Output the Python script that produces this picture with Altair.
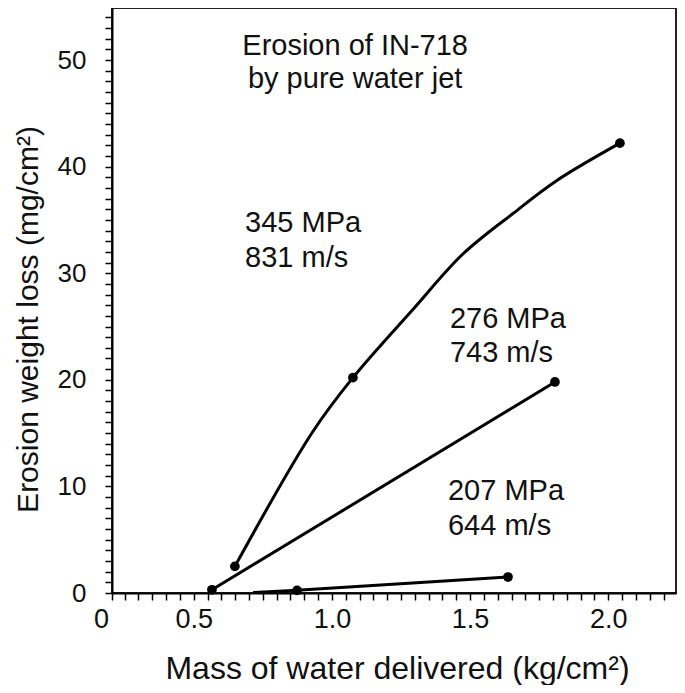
import altair as alt
import pandas as pd

# ---- data ----
x345 = [0.649, 0.930, 1.076, 1.293, 1.474, 1.655, 1.814, 2.042]
y345 = [2.5, 15.1, 20.2, 26.6, 31.8, 35.6, 38.7, 42.2]
x276 = [0.566, 1.807]
y276 = [0.3, 19.8]
x207 = [0.715, 0.874, 1.637]
y207 = [0.05, 0.25, 1.5]

marker_x = [0.649, 1.076, 2.042, 0.566, 1.807, 0.874, 1.637]
marker_y = [2.5, 20.2, 42.2, 0.3, 19.8, 0.25, 1.5]

title_lines = ["Erosion of IN-718", "by pure water jet"]
title_x = [1.084, 1.084]
title_y = [50.47, 47.37]

label_lines = ["345 MPa", "831 m/s", "276 MPa", "743 m/s", "207 MPa", "644 m/s"]
label_x = [0.686, 0.686, 1.427, 1.427, 1.420, 1.420]
label_y = [33.86, 30.58, 24.86, 21.67, 8.72, 5.44]

X_MIN, X_MAX = 0.2044, 2.2449
Y_MIN, Y_MAX = 0.0, 54.88
x_ticks = [X_MIN] + [round(0.25 + 0.05 * i, 2) for i in range(40)]
y_ticks = list(range(0, 55))

FONT = "Liberation Sans"
INK = "#111111"

lines = pd.DataFrame(
    {"x": x345 + x276 + x207,
     "y": y345 + y276 + y207,
     "series": ["345"] * len(x345) + ["276"] * len(x276) + ["207"] * len(x207),
     "order": list(range(len(x345))) + list(range(len(x276))) + list(range(len(x207)))}
)
markers = pd.DataFrame({"x": marker_x, "y": marker_y})
titles = pd.DataFrame({"x": title_x, "y": title_y, "t": title_lines})
labels = pd.DataFrame({"x": label_x, "y": label_y, "t": label_lines})

x_axis = alt.Axis(
    values=x_ticks,
    labelExpr="datum.value < 0.22 ? '0' : (abs(datum.value*2 - round(datum.value*2)) < 0.001 ? format(datum.value, '.1f') : '')",
    title="Mass of water delivered (kg/cm²)",
    grid=False, tickSize=7, tickWidth=1.5, tickColor="black",
    domainColor="black", domainWidth=2,
    labelFont=FONT, labelFontSize=27, labelColor=INK, labelPadding=6,
    labelOverlap=False, labelFlush=False,
    labelOffset={"condition": {"test": "datum.value < 0.22", "value": -11}, "value": 0},
    titleFont=FONT, titleFontSize=32, titleFontWeight="normal", titleColor=INK,
    titleX=285, titleY=85, titleAlign="center", titleBaseline="alphabetic",
)
y_axis = alt.Axis(
    values=y_ticks,
    labelExpr="datum.value % 10 == 0 ? '' + datum.value : ''",
    title="Erosion weight loss (mg/cm²)",
    grid=False, tickSize=7, tickWidth=1.5, tickColor="black",
    domainColor="black", domainWidth=2,
    labelFont=FONT, labelFontSize=26, labelColor=INK, labelPadding=19,
    labelOverlap=False, labelFlush=False,
    titleFont=FONT, titleFontSize=30, titleFontWeight="normal", titleColor=INK,
    titleAngle=270, titleX=-75, titleY=311, titleAlign="center", titleBaseline="alphabetic",
)

X = alt.X("x:Q", scale=alt.Scale(domain=[X_MIN, X_MAX], nice=False, zero=False), axis=x_axis)
Y = alt.Y("y:Q", scale=alt.Scale(domain=[Y_MIN, Y_MAX], nice=False, zero=False), axis=y_axis)

curve345 = alt.Chart(lines).transform_filter("datum.series == '345'").mark_line(
    color="black", strokeWidth=3, interpolate="catmull-rom"
).encode(x=X, y=Y, order="order:Q")
straight = alt.Chart(lines).transform_filter("datum.series != '345'").mark_line(
    color="black", strokeWidth=3
).encode(x=X, y=Y, detail="series:N", order="order:Q")
dots = alt.Chart(markers).mark_point(
    shape="circle", filled=True, color="black", size=95, opacity=1
).encode(x=X, y=Y)
title_text = alt.Chart(titles).mark_text(
    font=FONT, fontSize=29, color=INK, align="center", baseline="alphabetic"
).encode(x=X, y=Y, text="t:N")
label_text = alt.Chart(labels).mark_text(
    font=FONT, fontSize=29, color=INK, align="left", baseline="alphabetic"
).encode(x=X, y=Y, text="t:N")

chart = alt.layer(curve345, straight, dots, title_text, label_text).properties(
    width=564, height=585,
    padding={"left": 104, "top": 0, "right": 1, "bottom": 92},
    autosize=alt.AutoSizeParams(type="none"),
    background="white",
).configure_view(stroke="#222222", strokeWidth=2)

chart.save("out.html", embed_options={"renderer": "svg", "actions": False})
